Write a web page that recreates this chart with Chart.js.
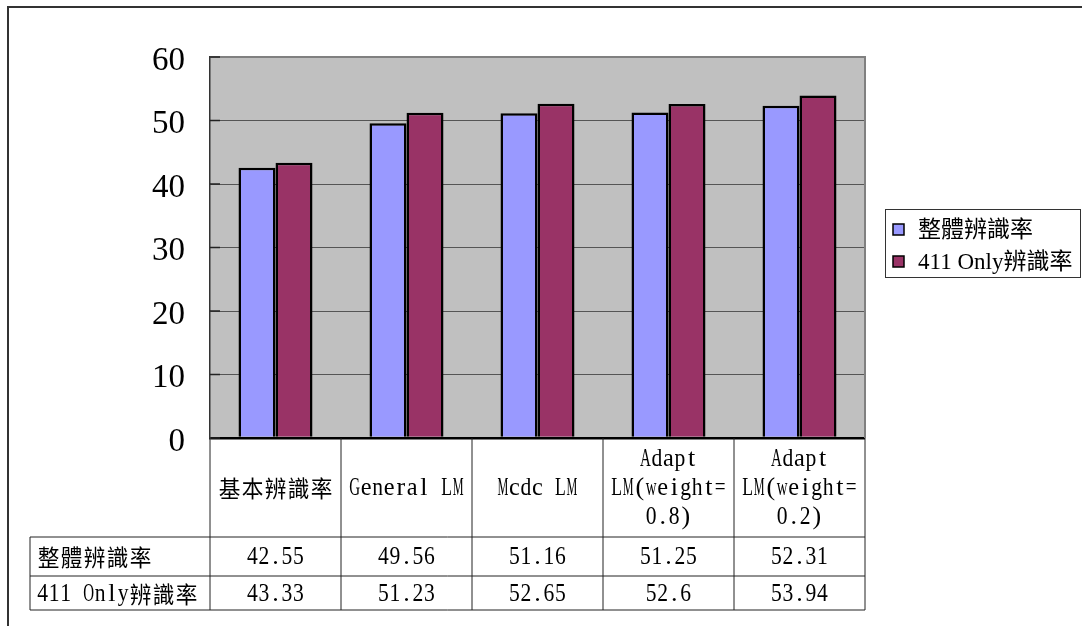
<!DOCTYPE html>
<html>
<head>
<meta charset="utf-8">
<title>辨識率比較</title>
<script src="https://cdn.jsdelivr.net/npm/chart.js@4.4.1/dist/chart.umd.min.js"></script>
<style>
  html, body { margin:0; padding:0; background:#fff; }
  canvas { display:block; }
</style>
</head>
<body>
<canvas id="chart-rate" width="1082" height="626"></canvas>
<script>
/*############################################################################
                  [ChartJS] Bar Chart - 辨識率 + data table
############################################################################*/

// Data
var categories = [
  ["基本辨識率"],
  ["General LM"],
  ["Mcdc LM"],
  ["Adapt", "LM(weight=", "0.8)"],
  ["Adapt", "LM(weight=", "0.2)"]
];
var seriesNames = ["整體辨識率", "411 Only辨識率"];
var overallRate = [42.55, 49.56, 51.16, 51.25, 52.31];
var only411Rate = [43.33, 51.23, 52.65, 52.6, 53.94];
var yMin = 0, yMax = 60, yStep = 10;

var colorBlue = "#9999FF";
var colorPlum = "#993366";

// MingLiU-ish text: latin in half cells, CJK in full cells
var FULL = 23, HALF = 11.5;
var latinFont = "26px 'Liberation Serif'";
var cjkFont = "23px 'Noto Sans CJK TC'";

function drawMixed(ctx, text, x, y, align){
  var cells = [], total = 0;
  for (var ch of text){
    var w = ch.charCodeAt(0) < 0x2e80 ? HALF : FULL;
    cells.push([ch, w]);
    total += w;
  }
  var pos = align === "center" ? x - total / 2 : x;
  ctx.textAlign = "center";
  ctx.textBaseline = "middle";
  cells.forEach(function(c){
    if (c[0] !== " "){
      ctx.font = c[1] === HALF ? latinFont : cjkFont;
      var gw = ctx.measureText(c[0]).width;
      var s = Math.min(1, c[1] * 0.94 / gw);
      ctx.save();
      ctx.translate(pos + c[1] / 2, y);
      ctx.scale(s, 1);
      ctx.fillText(c[0], 0, 0);
      ctx.restore();
    }
    pos += c[1];
  });
}

// grey plot background
var plotBackground = {
  id: "plotBackground",
  beforeDraw: function(chart){
    var a = chart.chartArea, ctx = chart.ctx;
    ctx.save();
    ctx.fillStyle = "#C0C0C0";
    ctx.fillRect(a.left, a.top, a.right - a.left, a.bottom - a.top);
    ctx.restore();
  }
};

// plot border, inner ticks, data table, legend, outer frame
var extras = {
  id: "extras",
  afterDraw: function(chart){
    var ctx = chart.ctx, a = chart.chartArea;
    var xs = chart.scales.x, ys = chart.scales.y;
    ctx.save();

    // plot border (top + right)
    ctx.strokeStyle = "#808080";
    ctx.lineWidth = 2;
    ctx.beginPath();
    ctx.moveTo(a.left, a.top);
    ctx.lineTo(a.right, a.top);
    ctx.lineTo(a.right, a.bottom);
    ctx.stroke();

    // small ticks inside the value axis
    ctx.strokeStyle = "#222";
    ctx.lineWidth = 1.5;
    ys.ticks.forEach(function(t){
      var py = ys.getPixelForValue(t.value);
      ctx.beginPath();
      ctx.moveTo(a.left, py);
      ctx.lineTo(a.left + 10, py);
      ctx.stroke();
    });

    // data table
    var half = (xs.getPixelForValue(1) - xs.getPixelForValue(0)) / 2;
    var headTop = a.bottom, headBottom = 537, row1Bottom = 576, row2Bottom = 610;
    var labelLeft = 30;
    ctx.strokeStyle = "#222";
    ctx.lineWidth = 1;
    ctx.beginPath();
    ctx.moveTo(labelLeft, headBottom); ctx.lineTo(a.right, headBottom);
    ctx.moveTo(labelLeft, row1Bottom); ctx.lineTo(a.right, row1Bottom);
    ctx.moveTo(labelLeft, row2Bottom); ctx.lineTo(a.right, row2Bottom);
    ctx.moveTo(labelLeft, headBottom); ctx.lineTo(labelLeft, row2Bottom);
    for (var i = 0; i < categories.length; i++){
      var x0 = xs.getPixelForValue(i) - half;
      ctx.moveTo(x0, headTop); ctx.lineTo(x0, row2Bottom);
    }
    var xr = xs.getPixelForValue(categories.length - 1) + half;
    ctx.moveTo(xr, headTop); ctx.lineTo(xr, row2Bottom);
    ctx.stroke();

    ctx.fillStyle = "#000";
    var headMid = (headTop + headBottom) / 2 + 1, lineH = 29;
    categories.forEach(function(lines, i){
      var cx = xs.getPixelForValue(i);
      var y0 = headMid - (lines.length - 1) * lineH / 2;
      lines.forEach(function(ln, k){ drawMixed(ctx, ln, cx, y0 + k * lineH, "center"); });
    });
    var rowMids = [(headBottom + row1Bottom) / 2 + 1, (row1Bottom + row2Bottom) / 2 + 1];
    chart.data.datasets.forEach(function(ds, r){
      drawMixed(ctx, ds.label, labelLeft + 7, rowMids[r], "left");
      ds.data.forEach(function(v, i){
        drawMixed(ctx, String(v), xs.getPixelForValue(i), rowMids[r], "center");
      });
    });

    // legend
    ctx.strokeStyle = "#333";
    ctx.lineWidth = 1;
    ctx.strokeRect(885.5, 209.5, 195, 68);
    var legendRows = [230, 262];
    chart.data.datasets.forEach(function(ds, r){
      var ly = legendRows[r];
      ctx.fillStyle = ds.backgroundColor;
      ctx.fillRect(893, ly - 6, 11, 11);
      ctx.lineWidth = 1.5;
      ctx.strokeStyle = "#000";
      ctx.strokeRect(893, ly - 6, 11, 11);
      ctx.fillStyle = "#000";
      ctx.font = "23px 'Liberation Serif', 'Noto Sans CJK TC'";
      ctx.textAlign = "left";
      ctx.textBaseline = "middle";
      ctx.fillText(ds.label, 918, ly + 1);
    });

    // outer frame
    ctx.strokeStyle = "#333";
    ctx.lineWidth = 2;
    ctx.beginPath();
    ctx.moveTo(8, 626);
    ctx.lineTo(8, 7);
    ctx.lineTo(1082, 7);
    ctx.stroke();

    ctx.restore();
  }
};

var htmlTag = document.getElementById("chart-rate");
var configBar = {
  type: "bar",
  data: {
    labels: categories,
    datasets: [{
      label: seriesNames[0],
      data: overallRate,
      backgroundColor: colorBlue,
      borderColor: "#000",
      borderWidth: 2.5
    }, {
      label: seriesNames[1],
      data: only411Rate,
      backgroundColor: colorPlum,
      borderColor: "#000",
      borderWidth: 2.5
    }]
  },
  options: {
    responsive: false,
    animation: false,
    devicePixelRatio: 1,
    categoryPercentage: 0.565,
    barPercentage: 1.0,
    layout: { padding: { left: 0, top: 57, right: 217, bottom: 188 } },
    plugins: {
      legend: { display: false },
      tooltip: { enabled: false }
    },
    scales: {
      x: { display: false },
      y: {
        min: yMin,
        max: yMax,
        afterFit: function(scale){ scale.width = 210; },
        ticks: {
          stepSize: yStep,
          padding: 25,
          labelOffset: 4,
          color: "#000",
          font: { family: "Liberation Serif", size: 33 }
        },
        grid: {
          drawTicks: false,
          color: function(c){
            if (c.tick.value === 0) return "#000";
            if (c.tick.value === yMax) return "#808080";
            return "#555";
          },
          lineWidth: function(c){
            if (c.tick.value === 0) return 2.5;
            if (c.tick.value === yMax) return 2;
            return 1;
          }
        },
        border: { color: "#333", width: 1.5 }
      }
    }
  },
  plugins: [plotBackground, extras]
};

var chartBar = new Chart(htmlTag, configBar);
</script>
</body>
</html>
